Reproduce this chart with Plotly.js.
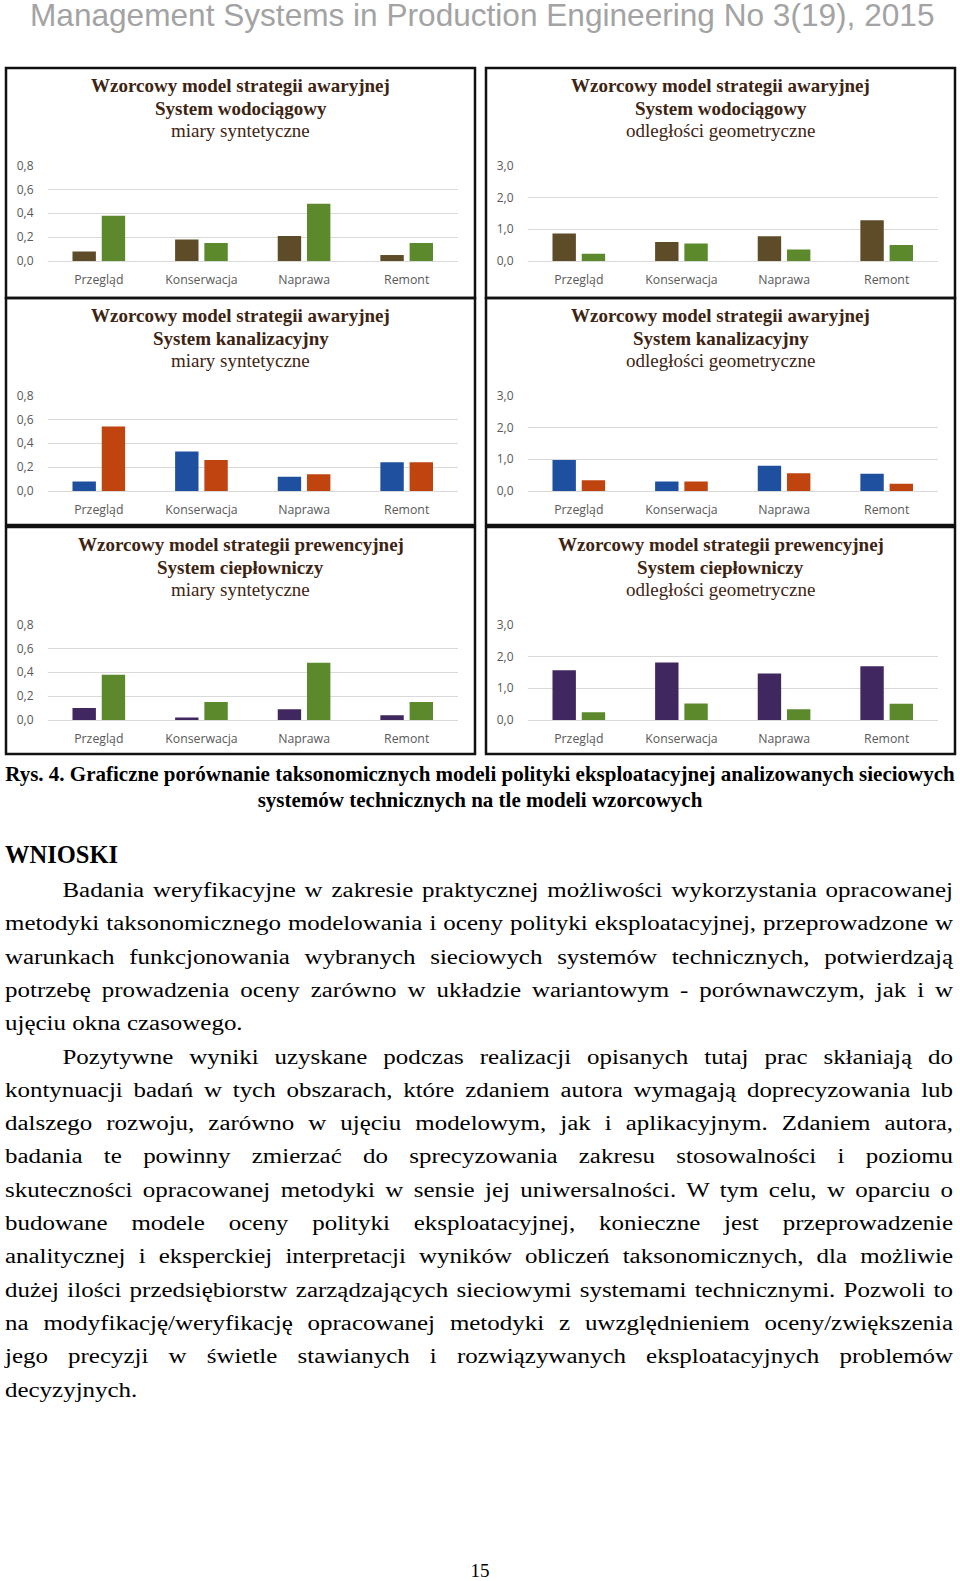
<!DOCTYPE html>
<html>
<head>
<meta charset="utf-8">
<script src="https://cdn.plot.ly/plotly-3.0.1.min.js"></script>
<style>
  html, body { margin:0; padding:0; background:#ffffff; }
  body { width:960px; height:1581px; position:relative; overflow:hidden; }
  #charts { position:absolute; left:0; top:0; width:960px; height:760px; z-index:1; }
  #header { position:absolute; left:30px; top:0px; z-index:2; font-family:"Liberation Sans", Arial, sans-serif; font-size:31.6px; line-height:30px; color:#a3a3a3; white-space:nowrap; }
  .cap { position:absolute; left:0; width:960px; text-align:center; font-family:"Liberation Serif", "Times New Roman", serif; font-weight:bold; font-size:21px; line-height:26px; color:#000; white-space:nowrap; }
  .ln { position:absolute; left:5px; width:779px; font-family:"Liberation Serif", "Times New Roman", serif; font-size:20.5px; line-height:33.3px; color:#000; white-space:nowrap; text-align:justify; text-align-last:justify; box-sizing:border-box; transform:scaleX(1.217); transform-origin:0 0; }
  .ln.ind { padding-left:47.2px; }
  .ln.last { text-align:left; text-align-last:left; }
  #wnioski { position:absolute; left:5px; top:838px; font-family:"Liberation Serif", "Times New Roman", serif; font-weight:bold; font-size:24.5px; line-height:33.3px; color:#000; }
  #pagenum { position:absolute; left:0; width:960px; top:1556px; text-align:center; font-family:"Liberation Serif", "Times New Roman", serif; font-size:19px; line-height:30px; color:#000; }
</style>
</head>
<body>
<div id="charts"></div>
<div id="header">Management Systems in Production Engineering No 3(19), 2015</div>
<div class="cap" style="top:761px;">Rys. 4. Graficzne porównanie taksonomicznych modeli polityki eksploatacyjnej analizowanych sieciowych</div>
<div class="cap" style="top:787px;">systemów technicznych na tle modeli wzorcowych</div>
<div id="wnioski">WNIOSKI</div>
<div id="body"></div>
<div id="pagenum">15</div>
<script>
// ---------------- DATA ----------------
const categories = ['Przegląd', 'Konserwacja', 'Naprawa', 'Remont'];

// System wodociągowy
const waterSynthModel = [0.08, 0.18, 0.21, 0.05];
const waterSynthPattern = [0.38, 0.15, 0.48, 0.15];
const waterGeomModel = [0.86, 0.60, 0.78, 1.28];
const waterGeomPattern = [0.23, 0.55, 0.36, 0.50];

// System kanalizacyjny
const sewerSynthModel = [0.08, 0.33, 0.12, 0.24];
const sewerSynthPattern = [0.54, 0.26, 0.14, 0.24];
const sewerGeomModel = [0.97, 0.30, 0.79, 0.54];
const sewerGeomPattern = [0.34, 0.30, 0.56, 0.23];

// System ciepłowniczy
const heatSynthModel = [0.10, 0.02, 0.09, 0.04];
const heatSynthPattern = [0.38, 0.15, 0.48, 0.15];
const heatGeomModel = [1.56, 1.81, 1.46, 1.69];
const heatGeomPattern = [0.24, 0.52, 0.34, 0.51];

const titleLine1 = ['Wzorcowy model strategii awaryjnej', 'Wzorcowy model strategii awaryjnej',
                    'Wzorcowy model strategii awaryjnej', 'Wzorcowy model strategii awaryjnej',
                    'Wzorcowy model strategii prewencyjnej', 'Wzorcowy model strategii prewencyjnej'];
const titleLine2 = ['System wodociągowy', 'System wodociągowy', 'System kanalizacyjny',
                    'System kanalizacyjny', 'System ciepłowniczy', 'System ciepłowniczy'];
const titleLine3 = ['miary syntetyczne', 'odległości geometryczne', 'miary syntetyczne',
                    'odległości geometryczne', 'miary syntetyczne', 'odległości geometryczne'];

const paragraph1 = [
  'Badania weryfikacyjne w zakresie praktycznej możliwości wykorzystania opracowanej',
  'metodyki taksonomicznego modelowania i oceny polityki eksploatacyjnej, przeprowadzone w',
  'warunkach funkcjonowania wybranych sieciowych systemów technicznych, potwierdzają',
  'potrzebę prowadzenia oceny zarówno w układzie wariantowym - porównawczym, jak i w',
  'ujęciu okna czasowego.'
];
const paragraph2 = [
  'Pozytywne wyniki uzyskane podczas realizacji opisanych tutaj prac skłaniają do',
  'kontynuacji badań w tych obszarach, które zdaniem autora wymagają doprecyzowania lub',
  'dalszego rozwoju, zarówno w ujęciu modelowym, jak i aplikacyjnym. Zdaniem autora,',
  'badania te powinny zmierzać do sprecyzowania zakresu stosowalności i poziomu',
  'skuteczności opracowanej metodyki w sensie jej uniwersalności. W tym celu, w oparciu o',
  'budowane modele oceny polityki eksploatacyjnej, konieczne jest przeprowadzenie',
  'analitycznej i eksperckiej interpretacji wyników obliczeń taksonomicznych, dla możliwie',
  'dużej ilości przedsiębiorstw zarządzających sieciowymi systemami technicznymi. Pozwoli to',
  'na modyfikację/weryfikację opracowanej metodyki z uwzględnieniem oceny/zwiększenia',
  'jego precyzji w świetle stawianych i rozwiązywanych eksploatacyjnych problemów',
  'decyzyjnych.'
];

// ---------------- STYLE ----------------
const C_BROWN = '#5e4b27', C_GREEN = '#5c892c', C_BLUE = '#1f50a0', C_ORANGE = '#c0440f', C_PURPLE = '#402760';

const charts = [
  {a: waterSynthModel, b: waterSynthPattern, ca: C_BROWN, cb: C_GREEN, max: 0.8, dt: 0.2, L: 6, T: 68, H: 230},
  {a: waterGeomModel, b: waterGeomPattern, ca: C_BROWN, cb: C_GREEN, max: 3, dt: 1, L: 486, T: 68, H: 230},
  {a: sewerSynthModel, b: sewerSynthPattern, ca: C_BLUE, cb: C_ORANGE, max: 0.8, dt: 0.2, L: 6, T: 298, H: 227},
  {a: sewerGeomModel, b: sewerGeomPattern, ca: C_BLUE, cb: C_ORANGE, max: 3, dt: 1, L: 486, T: 298, H: 227},
  {a: heatSynthModel, b: heatSynthPattern, ca: C_PURPLE, cb: C_GREEN, max: 0.8, dt: 0.2, L: 6, T: 527, H: 227},
  {a: heatGeomModel, b: heatGeomPattern, ca: C_PURPLE, cb: C_GREEN, max: 3, dt: 1, L: 486, T: 527, H: 227}
];

const FW = 960, FH = 760, BW = 469;
const px = v => v / FW;
const py = v => 1 - v / FH;

const traces = [];
const layout = {
  width: FW, height: FH,
  margin: {l: 0, r: 0, t: 0, b: 0},
  paper_bgcolor: 'rgba(0,0,0,0)', plot_bgcolor: 'rgba(0,0,0,0)',
  showlegend: false,
  separators: ', ',
  barmode: 'group', bargap: 0.43, bargroupgap: 0.2,
  font: {family: 'Open Sans, sans-serif', size: 12.3, color: '#595959'},
  shapes: [], annotations: []
};

charts.forEach((c, i) => {
  const n = i === 0 ? '' : String(i + 1);
  const xa = 'x' + n, ya = 'y' + n;
  traces.push({type: 'bar', x: categories, y: c.a, xaxis: xa, yaxis: ya, name: 'model',
               marker: {color: c.ca}, hoverinfo: 'skip'});
  traces.push({type: 'bar', x: categories, y: c.b, xaxis: xa, yaxis: ya, name: 'model wzorcowy',
               marker: {color: c.cb}, hoverinfo: 'skip'});
  layout['xaxis' + n] = {
    domain: [px(c.L + 41.5), px(c.L + 452)], anchor: ya,
    showgrid: false, zeroline: false, showline: true, linecolor: '#d9d9d9', linewidth: 1,
    ticks: '', ticklabelstandoff: 7, fixedrange: true,
    tickfont: {family: 'Open Sans, sans-serif', size: 12.3, color: '#595959'}
  };
  layout['yaxis' + n] = {
    domain: [py(c.T + 193), py(c.T + 97.5)], anchor: xa,
    range: [0, c.max], dtick: c.dt, tick0: 0, tickformat: '.1f',
    showgrid: true, gridcolor: '#d9d9d9', gridwidth: 1, zeroline: false, showline: false,
    ticks: '', ticklabelstandoff: 13, fixedrange: true,
    tickfont: {family: 'Open Sans, sans-serif', size: 12, color: '#595959'}
  };
  layout.shapes.push({type: 'rect', xref: 'paper', yref: 'paper',
    x0: px(c.L), x1: px(c.L + BW), y0: py(c.T + c.H), y1: py(c.T),
    line: {color: '#111111', width: 2.5}, fillcolor: 'rgba(0,0,0,0)'});
  const cx = px(c.L + BW / 2);
  const tf = {family: 'Liberation Serif, Times New Roman, serif', size: 19, color: '#3d2412'};
  layout.annotations.push({xref: 'paper', yref: 'paper', x: cx, y: py(c.T + 17.5), xanchor: 'center', yanchor: 'middle',
    text: '<b>' + titleLine1[i] + '</b>', showarrow: false, font: tf});
  layout.annotations.push({xref: 'paper', yref: 'paper', x: cx, y: py(c.T + 40.5), xanchor: 'center', yanchor: 'middle',
    text: '<b>' + titleLine2[i] + '</b>', showarrow: false, font: tf});
  layout.annotations.push({xref: 'paper', yref: 'paper', x: cx, y: py(c.T + 62.5), xanchor: 'center', yanchor: 'middle',
    text: titleLine3[i], showarrow: false, font: tf});
});

Plotly.newPlot('charts', traces, layout, {staticPlot: true, displayModeBar: false});

// ---------------- BODY TEXT ----------------
const bodyDiv = document.getElementById('body');
const allLines = [];
paragraph1.forEach((t, k) => allLines.push({t, ind: k === 0, last: k === paragraph1.length - 1}));
paragraph2.forEach((t, k) => allLines.push({t, ind: k === 0, last: k === paragraph2.length - 1}));
allLines.forEach((l, k) => {
  const d = document.createElement('div');
  d.className = 'ln' + (l.ind ? ' ind' : '') + (l.last ? ' last' : '');
  d.style.top = (874 + k * 33.3) + 'px';
  d.textContent = l.t;
  bodyDiv.appendChild(d);
});
</script>
</body>
</html>
